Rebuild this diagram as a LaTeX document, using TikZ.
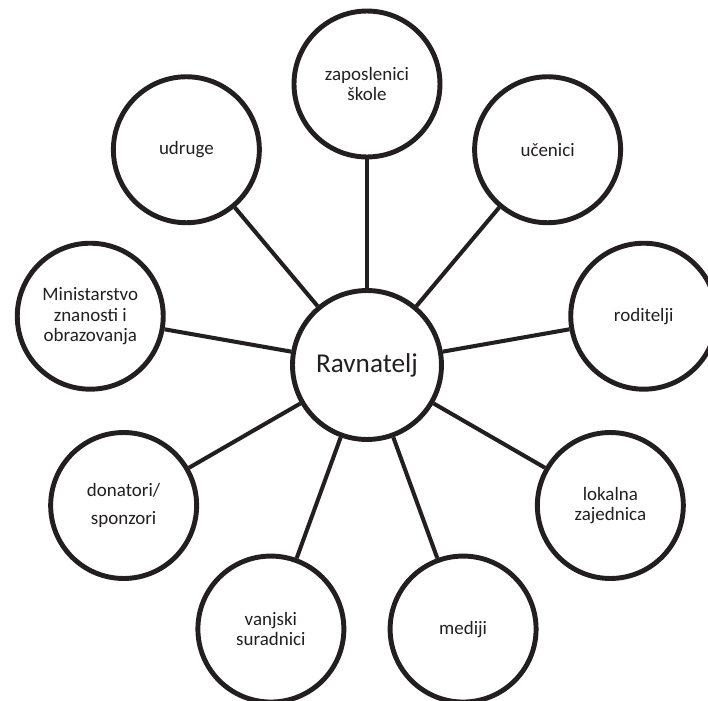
\documentclass[tikz,border=0pt]{standalone}
\usepackage{fontspec}
\setmainfont{Carlito}
\usepackage{tikz}
\definecolor{ink}{HTML}{231F20}
\tikzset{
  krug/.style={draw=ink, line width=2.8pt, circle, minimum size=2.92cm, inner sep=0pt,
    align=center, text=ink, font=\fontsize{10.8}{11.8}\selectfont},
  veza/.style={draw=ink, line width=2.3pt}
}

\begin{document}
\begin{tikzpicture}[x=0.02cm,y=0.02cm]
\useasboundingbox (-367,-336) rectangle (341,365);
\node[krug, minimum size=2.98cm, font=\fontsize{15.5}{18}\selectfont] (ravnatelj) at (0,0) {Ravnatelj};
\node[krug] (zaposlenici) at (90:281) {zaposlenici\\škole};
\node[krug] (ucenici) at (50:281) {učenici};
\node[krug] (roditelji) at (10:281) {roditelji};
\node[krug] (lokalna) at (-30:281) {lokalna\\zajednica};
\node[krug] (mediji) at (-70:281) {mediji};
\node[krug] (vanjski) at (250:281) {vanjski\\suradnici};
\node[krug] (donatori) at (210:281) {donatori/\\[4.5pt]sponzori};
\node[krug] (ministarstvo) at (170:281) {Ministarstvo\\znanosti i\\obrazovanja};
\node[krug] (udruge) at (130:281) {udruge};
\draw[veza] (ravnatelj) -- (zaposlenici);
\draw[veza] (ravnatelj) -- (ucenici);
\draw[veza] (ravnatelj) -- (roditelji);
\draw[veza] (ravnatelj) -- (lokalna);
\draw[veza] (ravnatelj) -- (mediji);
\draw[veza] (ravnatelj) -- (vanjski);
\draw[veza] (ravnatelj) -- (donatori);
\draw[veza] (ravnatelj) -- (ministarstvo);
\draw[veza] (ravnatelj) -- (udruge);
\end{tikzpicture}
\end{document}
